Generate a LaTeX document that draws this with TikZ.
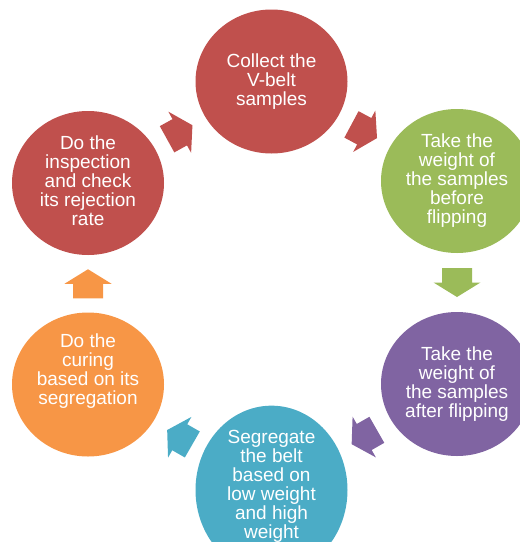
\documentclass[tikz,border=0pt]{standalone}
\usepackage{fontspec}
\setmainfont{Liberation Sans}
\definecolor{stagered}{RGB}{192,80,77}
\definecolor{stagegreen}{RGB}{155,187,89}
\definecolor{stagepurple}{RGB}{128,100,162}
\definecolor{stageteal}{RGB}{75,172,198}
\definecolor{stageorange}{RGB}{247,150,70}
\usetikzlibrary{shapes.geometric}

\tikzset{
  stage/.style={ellipse, minimum width=152pt, minimum height=144pt, inner sep=0pt,
        text=white, align=center, font=\fontsize{19}{19}\selectfont},
  pics/flowarrow/.style={code={
    \fill[#1] (-14.5,-15) -- (0,-15) -- (0,-23.5) -- (14.5,0) -- (0,23.5) -- (0,15) -- (-14.5,15) -- cycle;
  }}
}

\begin{document}
\begin{tikzpicture}[x=1pt, y=-1pt]
  \useasboundingbox (0,0) rectangle (520,542);

  \node[stage, fill=stagered] (collect) at (271.5,81.5) {Collect the\\V-belt\\samples};
  \node[stage, fill=stagegreen] (before) at (457,181) {Take the\\weight of\\the samples\\before\\flipping};
  \node[stage, fill=stagepurple] (after) at (457,384) {Take the\\weight of\\the samples\\after flipping};
  \node[stage, fill=stageteal, text depth=11pt] (segregate) at (271.5,490) {Segregate\\the belt\\based on\\low weight\\and high\\weight};
  \node[stage, fill=stageorange, text depth=30pt] (curing) at (88,384.5) {Do the\\curing\\based on its\\segregation};
  \node[stage, fill=stagered, text depth=5pt] (inspect) at (88,183) {Do the\\inspection\\and check\\its rejection\\rate};

  % arrows between the stages
  \path (inspect.center) -- pic[sloped, allow upside down]{flowarrow=stagered} (collect.center);
  \path (collect.center) -- pic[sloped, allow upside down]{flowarrow=stagered} (before.center);
  \path (before.center) -- pic[sloped, allow upside down]{flowarrow=stagegreen} (after.center);
  \path (after.center) -- pic[sloped, allow upside down]{flowarrow=stagepurple} (segregate.center);
  \path (segregate.center) -- pic[sloped, allow upside down]{flowarrow=stageteal} (curing.center);
  \path (curing.center) -- pic[sloped, allow upside down]{flowarrow=stageorange} (inspect.center);
\end{tikzpicture}
\end{document}
